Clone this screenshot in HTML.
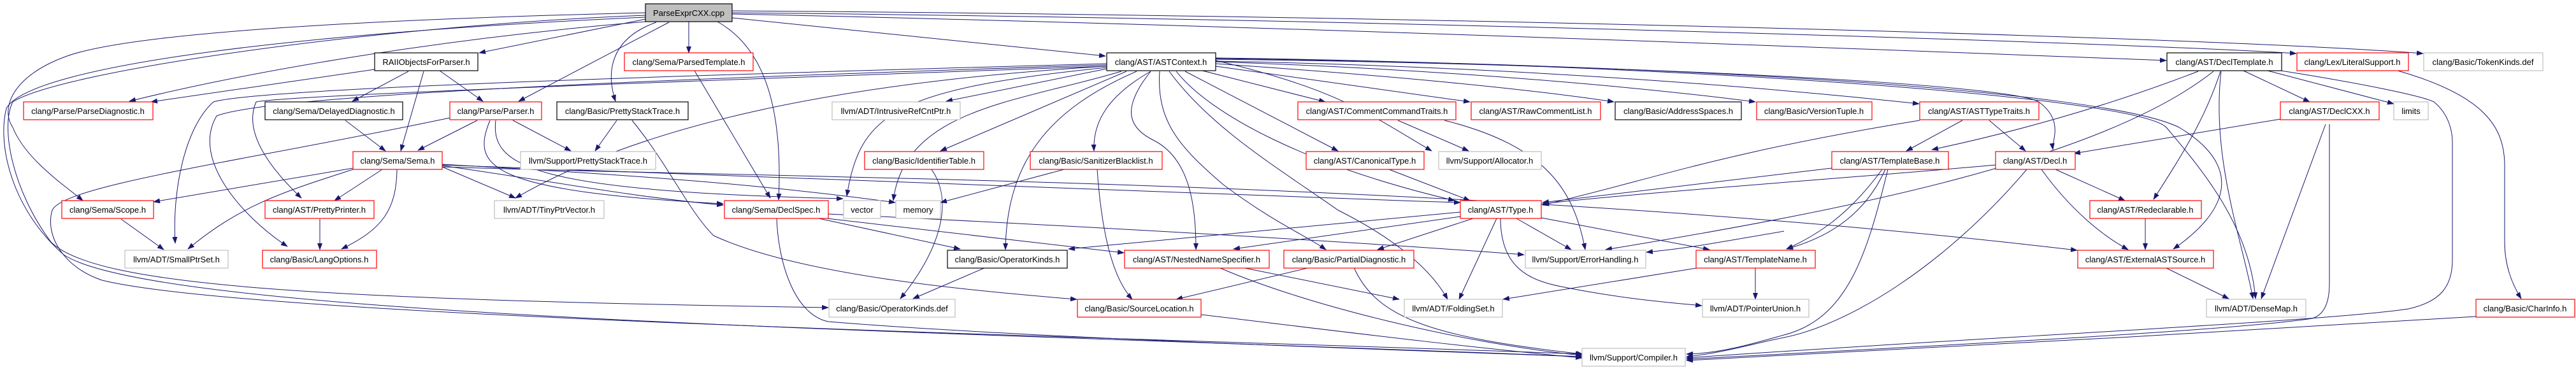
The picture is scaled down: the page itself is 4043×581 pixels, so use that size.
<!DOCTYPE html>
<html><head><meta charset="utf-8"><style>
html,body{margin:0;padding:0;background:#fff;}
svg{display:block;}
text{font-family:"Liberation Sans",Arial,sans-serif;font-size:13px;fill:#000;}
.r{fill:#fff;stroke:#ff0000;stroke-width:1.2}
.b{fill:#fff;stroke:#000;stroke-width:1.2}
.g{fill:#fff;stroke:#bfbfbf;stroke-width:1.2}
.e path{fill:none;stroke:#191970;stroke-width:1;marker-end:url(#a)}
</style></head><body>
<svg width="4043" height="581" viewBox="0 0 4043 581" xmlns="http://www.w3.org/2000/svg">
<defs><marker id="a" markerUnits="userSpaceOnUse" markerWidth="11" markerHeight="8" refX="10" refY="4" orient="auto"><path d="M0,0 L11,4 L0,8 z" fill="#191970"/></marker></defs>
<g class="e">
<!-- from root -->
<path d="M1013,30 L752,83"/>
<path d="M1013,34 C700,60 400,110 203,159"/>
<path d="M1050,35 L814,159"/>
<path d="M1030,35 C960,60 950,110 966,159"/>
<path d="M1081,34 L1081,83"/>
<path d="M1126,34 C1190,70 1230,150 1222,314"/>
<path d="M1149,28 L1735,88"/>
<path d="M1149,22 C2000,40 3000,80 3400,95"/>
<path d="M1149,20 C2200,30 3400,70 3604,84"/>
<path d="M1149,17 C2300,25 3500,60 3803,84"/>
<path d="M1013,20 C600,30 200,50 100,90 C20,120 0,170 20,200 C40,250 100,290 130,315"/>
<path d="M1013,24 C600,40 100,110 20,160 C0,200 20,300 80,380 C150,450 500,470 1300,483"/>
<path d="M1013,27 C500,50 50,100 10,170 C-5,230 20,330 100,400 C250,500 1500,520 2483,560"/>
<!-- RAII -->
<path d="M588,109 L237,160"/>
<path d="M641,112 L553,159"/>
<path d="M665,112 L629,237"/>
<path d="M690,111 L758,159"/>
<path d="M542,189 L605,237"/>
<!-- Parser -->
<path d="M749,189 L656,236"/>
<path d="M805,189 L896,237"/>
<path d="M769,189 C740,260 760,300 1135,320"/>
<path d="M778,189 C770,260 830,300 1323,312"/>
<path d="M706,185 C400,250 100,290 82,330 C70,370 100,420 160,440 C400,500 1800,530 2483,556"/>
<!-- Sema -->
<path d="M554,264 L241,317"/>
<path d="M554,266 C450,300 380,320 295,391"/>
<path d="M600,266 L525,315"/>
<path d="M623,266 C622,330 600,360 536,391"/>
<path d="M694,262 L809,311"/>
<path d="M694,260 C900,290 1000,310 1135,322"/>
<path d="M694,258 C1000,275 1200,290 1405,318"/>
<path d="M694,262 C1200,280 2300,280 3260,393"/>
<path d="M694,259 C1100,270 1700,300 2292,318"/>
<!-- Scope, PrettyPrinter -->
<path d="M190,344 L257,392"/>
<path d="M502,344 L502,392"/>
<!-- PrettyStackTrace -->
<path d="M968,189 L934,237"/>
<path d="M992,189 C1050,260 1080,330 1120,370 C1250,430 1500,455 1690,470"/>
<!-- ParsedTemplate -->
<path d="M1090,111 L1209,311"/>
<!-- DeclSpec -->
<path d="M1219,343 C1222,420 1250,495 1300,505 C1600,530 2200,550 2483,560"/>
<path d="M1285,343 L1507,391"/>
<path d="M1298,343 L1764,397"/>
<path d="M1300,336 C1800,360 2200,385 2392,400"/>
<!-- ASTContext -->
<path d="M1737,108 L1485,159"/>
<path d="M1768,112 L1476,237"/>
<path d="M1784,112 C1650,170 1580,250 1578,392"/>
<path d="M1806,112 C1740,150 1715,190 1717,237"/>
<path d="M1806,112 C1760,170 1770,200 1810,220 C1870,250 1877,330 1877,392"/>
<path d="M1820,112 C1815,190 1850,230 1920,290 C2000,350 2050,370 2081,392"/>
<path d="M1835,112 C1900,200 2000,260 2100,330 C2200,380 2250,430 2272,470"/>
<path d="M1860,112 L2100,237"/>
<path d="M1846,112 C1900,180 2050,260 2283,315"/>
<path d="M1887,111 L2080,160"/>
<path d="M1908,104 L2307,160"/>
<path d="M1908,100 C2200,120 2400,140 2533,160"/>
<path d="M1908,97 C2300,110 2600,140 2755,160"/>
<path d="M1908,96 C2400,105 2800,140 3012,163"/>
<path d="M1908,93 C2500,100 3150,130 3200,160 C3240,190 3220,220 3222,235"/>
<path d="M1908,92 C2600,100 3300,140 3420,200 C3520,260 3500,330 3411,391"/>
<path d="M1908,91 C2600,100 3350,150 3400,200 C3450,260 3530,350 3540,469"/>
<path d="M1908,95 C2100,140 2150,180 2247,237"/>
<path d="M1737,100 C1000,120 400,140 335,160 C290,200 270,300 275,382"/>
<path d="M1737,102 C1000,125 420,150 340,182 C300,250 380,340 451,387"/>
<path d="M1737,104 C1000,130 450,150 402,160 C380,210 430,270 473,311"/>
<path d="M1737,106 C1400,140 1350,180 1329,308"/>
<path d="M1760,112 C1600,160 1420,170 1402,315"/>
<path d="M1737,104 C1300,130 1000,200 809,311"/>
<!-- traits etc -->
<path d="M2194,189 L2305,237"/>
<path d="M2267,189 C2430,230 2470,300 2488,392"/>
<path d="M2180,266 L2307,315"/>
<!-- Type -->
<path d="M2312,343 L2162,392"/>
<path d="M2349,343 L2290,470"/>
<path d="M2380,343 L2466,392"/>
<path d="M2419,342 L2683,392"/>
<path d="M2355,343 C2355,420 2400,440 2450,450 C2550,470 2620,475 2671,480"/>
<path d="M2292,340 L1936,391"/>
<path d="M2292,333 L1677,391"/>
<!-- lower -->
<path d="M2056,420 L1846,470"/>
<path d="M2125,420 C2160,500 2250,530 2484,556"/>
<path d="M1949,420 C2050,440 2150,460 2196,470"/>
<path d="M1913,420 C2050,480 2300,540 2483,558"/>
<path d="M1885,494 C2100,520 2300,545 2483,562"/>
<path d="M1462,266 C1500,320 1470,400 1413,469"/>
<path d="M1547,420 L1433,469"/>
<path d="M1670,266 L1476,318"/>
<path d="M1722,266 C1730,380 1750,440 1777,470"/>
<path d="M2669,420 L2359,470"/>
<path d="M2755,420 L2755,470"/>
<!-- right side -->
<path d="M3080,189 L2992,237"/>
<path d="M3122,189 L3179,237"/>
<path d="M3013,189 C2700,240 2600,280 2421,322"/>
<path d="M2875,264 L2421,318"/>
<path d="M3132,259 C2900,280 2600,300 2421,320"/>
<path d="M2954,266 C2900,340 2850,370 2804,391"/>
<path d="M2959,266 C2930,330 2880,370 2804,391"/>
<path d="M2963,266 C2930,400 2900,500 2800,526 C2750,540 2700,555 2647,556"/>
<path d="M3181,266 C3050,420 2900,510 2800,530 C2750,540 2700,555 2647,560"/>
<path d="M3204,266 C3250,330 3300,370 3340,392"/>
<path d="M3226,266 L3335,315"/>
<path d="M3367,343 L3367,392"/>
<path d="M3398,420 L3498,469"/>
<path d="M3450,112 C3300,170 3150,210 3032,235"/>
<path d="M3474,112 C3300,250 2900,330 2520,392"/>
<path d="M3485,112 C3460,190 3420,250 3380,313"/>
<path d="M3521,111 L3625,160"/>
<path d="M3559,111 L3757,163"/>
<path d="M3580,111 C3700,130 3800,150 3820,160 C3845,180 3849,210 3849,222 L3849,408 C3849,450 3830,474 3780,485 C3650,505 3100,530 2647,562"/>
<path d="M3486,112 C3470,250 3520,380 3536,469"/>
<path d="M3579,187 L3255,241"/>
<path d="M3650,195 L3549,469"/>
<path d="M3656,195 L3656,445 C3656,480 3645,495 3629,500 C3500,520 3000,545 2647,564"/>
<path d="M3763,111 C3900,150 3931,200 3931,260 L3931,380 C3931,420 3945,450 3957,469"/>
<path d="M3886,497 C3500,520 3000,550 2647,566"/>
<path d="M2800,363 C2700,380 2650,390 2584,396"/>
</g>
<!-- nodes -->
<g>
<rect x="1013" y="6" width="136" height="28" fill="#bfbfbf" stroke="#000" stroke-width="1.2"/><text x="1081" y="25" text-anchor="middle">ParseExprCXX.cpp</text>
<rect class="b" x="588" y="83" width="162" height="28"/><text x="669" y="102" text-anchor="middle">RAIIObjectsForParser.h</text>
<rect class="r" x="980" y="83" width="202" height="28"/><text x="1081" y="102" text-anchor="middle">clang/Sema/ParsedTemplate.h</text>
<rect class="b" x="1737" y="83" width="171" height="28"/><text x="1822" y="102" text-anchor="middle">clang/AST/ASTContext.h</text>
<rect class="b" x="3401" y="83" width="180" height="28"/><text x="3491" y="102" text-anchor="middle">clang/AST/DeclTemplate.h</text>
<rect class="r" x="3605" y="83" width="175" height="28"/><text x="3692" y="102" text-anchor="middle">clang/Lex/LiteralSupport.h</text>
<rect class="g" x="3804" y="83" width="187" height="28"/><text x="3897" y="102" text-anchor="middle">clang/Basic/TokenKinds.def</text>
<rect class="r" x="37" y="160" width="203" height="28"/><text x="138" y="179" text-anchor="middle">clang/Parse/ParseDiagnostic.h</text>
<rect class="b" x="416" y="160" width="216" height="28"/><text x="524" y="179" text-anchor="middle">clang/Sema/DelayedDiagnostic.h</text>
<rect class="r" x="706" y="160" width="144" height="28"/><text x="778" y="179" text-anchor="middle">clang/Parse/Parser.h</text>
<rect class="b" x="874" y="160" width="206" height="28"/><text x="977" y="179" text-anchor="middle">clang/Basic/PrettyStackTrace.h</text>
<rect class="g" x="1306" y="160" width="201" height="28"/><text x="1406" y="179" text-anchor="middle">llvm/ADT/IntrusiveRefCntPtr.h</text>
<rect class="r" x="2037" y="160" width="248" height="28"/><text x="2161" y="179" text-anchor="middle">clang/AST/CommentCommandTraits.h</text>
<rect class="r" x="2309" y="160" width="203" height="28"/><text x="2410" y="179" text-anchor="middle">clang/AST/RawCommentList.h</text>
<rect class="b" x="2535" y="160" width="198" height="28"/><text x="2634" y="179" text-anchor="middle">clang/Basic/AddressSpaces.h</text>
<rect class="r" x="2757" y="160" width="181" height="28"/><text x="2847" y="179" text-anchor="middle">clang/Basic/VersionTuple.h</text>
<rect class="r" x="3013" y="160" width="187" height="28"/><text x="3106" y="179" text-anchor="middle">clang/AST/ASTTypeTraits.h</text>
<rect class="r" x="3579" y="160" width="155" height="28"/><text x="3656" y="179" text-anchor="middle">clang/AST/DeclCXX.h</text>
<rect class="g" x="3757" y="160" width="54" height="28"/><text x="3784" y="179" text-anchor="middle">limits</text>
<rect class="r" x="554" y="238" width="140" height="28"/><text x="624" y="257" text-anchor="middle">clang/Sema/Sema.h</text>
<rect class="g" x="817" y="238" width="212" height="28"/><text x="923" y="257" text-anchor="middle">llvm/Support/PrettyStackTrace.h</text>
<rect class="r" x="1357" y="238" width="187" height="28"/><text x="1450" y="257" text-anchor="middle">clang/Basic/IdentifierTable.h</text>
<rect class="r" x="1617" y="238" width="207" height="28"/><text x="1720" y="257" text-anchor="middle">clang/Basic/SanitizerBlacklist.h</text>
<rect class="r" x="2050" y="238" width="185" height="28"/><text x="2142" y="257" text-anchor="middle">clang/AST/CanonicalType.h</text>
<rect class="g" x="2258" y="238" width="161" height="28"/><text x="2338" y="257" text-anchor="middle">llvm/Support/Allocator.h</text>
<rect class="r" x="2875" y="238" width="183" height="28"/><text x="2966" y="257" text-anchor="middle">clang/AST/TemplateBase.h</text>
<rect class="r" x="3132" y="238" width="125" height="28"/><text x="3194" y="257" text-anchor="middle">clang/AST/Decl.h</text>
<rect class="r" x="97" y="315" width="144" height="28"/><text x="169" y="334" text-anchor="middle">clang/Sema/Scope.h</text>
<rect class="r" x="416" y="315" width="171" height="28"/><text x="501" y="334" text-anchor="middle">clang/AST/PrettyPrinter.h</text>
<rect class="g" x="776" y="315" width="172" height="28"/><text x="862" y="334" text-anchor="middle">llvm/ADT/TinyPtrVector.h</text>
<rect class="r" x="1137" y="315" width="163" height="28"/><text x="1218" y="334" text-anchor="middle">clang/Sema/DeclSpec.h</text>
<rect class="g" x="1324" y="315" width="58" height="28"/><text x="1353" y="334" text-anchor="middle">vector</text>
<rect class="g" x="1406" y="315" width="70" height="28"/><text x="1441" y="334" text-anchor="middle">memory</text>
<rect class="r" x="2292" y="315" width="127" height="28"/><text x="2355" y="334" text-anchor="middle">clang/AST/Type.h</text>
<rect class="r" x="3280" y="315" width="175" height="28"/><text x="3367" y="334" text-anchor="middle">clang/AST/Redeclarable.h</text>
<rect class="g" x="196" y="393" width="162" height="28"/><text x="277" y="412" text-anchor="middle">llvm/ADT/SmallPtrSet.h</text>
<rect class="r" x="412" y="393" width="179" height="28"/><text x="501" y="412" text-anchor="middle">clang/Basic/LangOptions.h</text>
<rect class="b" x="1487" y="393" width="188" height="28"/><text x="1581" y="412" text-anchor="middle">clang/Basic/OperatorKinds.h</text>
<rect class="r" x="1765" y="393" width="227" height="28"/><text x="1878" y="412" text-anchor="middle">clang/AST/NestedNameSpecifier.h</text>
<rect class="r" x="2015" y="393" width="204" height="28"/><text x="2117" y="412" text-anchor="middle">clang/Basic/PartialDiagnostic.h</text>
<rect class="g" x="2394" y="393" width="189" height="28"/><text x="2488" y="412" text-anchor="middle">llvm/Support/ErrorHandling.h</text>
<rect class="r" x="2662" y="393" width="187" height="28"/><text x="2755" y="412" text-anchor="middle">clang/AST/TemplateName.h</text>
<rect class="r" x="3261" y="393" width="213" height="28"/><text x="3367" y="412" text-anchor="middle">clang/AST/ExternalASTSource.h</text>
<rect class="g" x="1301" y="470" width="198" height="28"/><text x="1400" y="489" text-anchor="middle">clang/Basic/OperatorKinds.def</text>
<rect class="r" x="1691" y="470" width="194" height="28"/><text x="1788" y="489" text-anchor="middle">clang/Basic/SourceLocation.h</text>
<rect class="g" x="2204" y="470" width="154" height="28"/><text x="2281" y="489" text-anchor="middle">llvm/ADT/FoldingSet.h</text>
<rect class="g" x="2672" y="470" width="167" height="28"/><text x="2755" y="489" text-anchor="middle">llvm/ADT/PointerUnion.h</text>
<rect class="g" x="3463" y="470" width="156" height="28"/><text x="3541" y="489" text-anchor="middle">llvm/ADT/DenseMap.h</text>
<rect class="r" x="3886" y="470" width="155" height="28"/><text x="3963" y="489" text-anchor="middle">clang/Basic/CharInfo.h</text>
<rect class="g" x="2483" y="547" width="162" height="28"/><text x="2564" y="566" text-anchor="middle">llvm/Support/Compiler.h</text>
</g>
</svg>
</body></html>
